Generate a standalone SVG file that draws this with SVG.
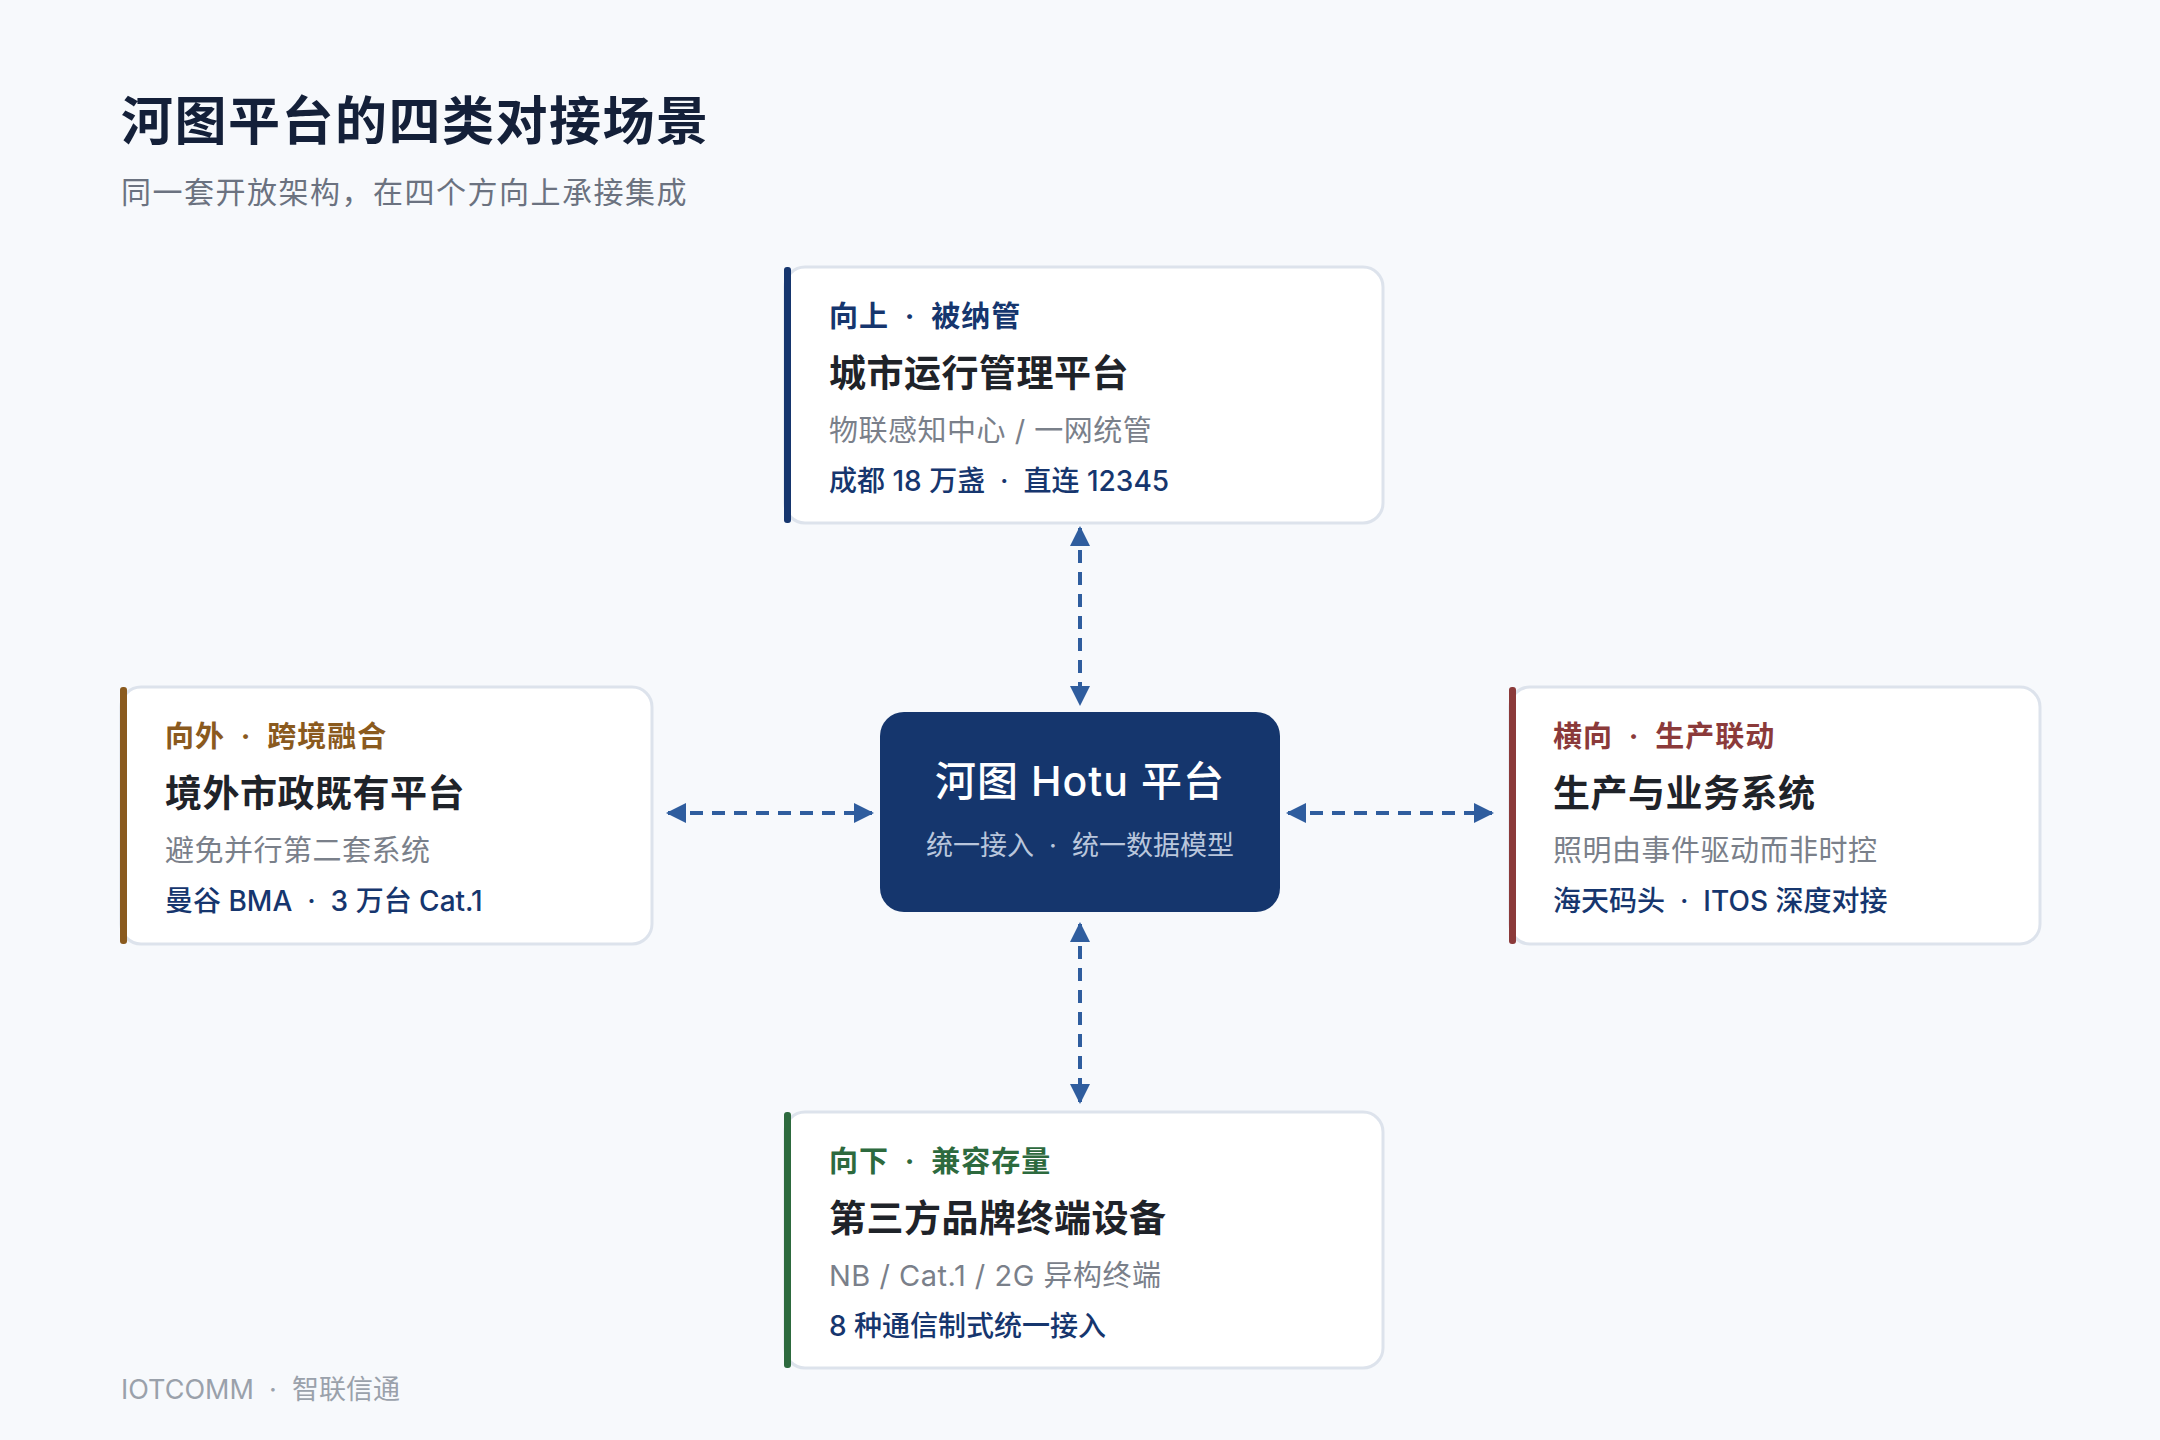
<svg xmlns="http://www.w3.org/2000/svg" width="2160" height="1440" viewBox="0 0 2160 1440">
<defs>
<style>
text{font-family:"Inter","Noto Sans CJK SC",sans-serif}
.card{fill:#fff;stroke:#dde3ec;stroke-width:3}
.tag{font-size:29px;font-weight:700;letter-spacing:1px;white-space:pre}
.ttl{font-size:37px;font-weight:700;fill:#1f2329;letter-spacing:0.5px}
.sub{font-size:29px;fill:#7a808a;letter-spacing:0.5px}
.stat{font-size:28px;font-weight:500;fill:#16366e;white-space:pre}
.conn{stroke:#2f5d9e;stroke-width:4;stroke-dasharray:13 9;fill:none}
</style>
<marker id="ah" viewBox="0 0 10 10" refX="9" refY="5" markerWidth="5" markerHeight="5" orient="auto-start-reverse"><path d="M0,0L10,5L0,10z" fill="#2f5d9e"/></marker>
</defs>
<rect width="2160" height="1440" fill="#f7f9fc"/>
<text x="121" y="140" font-size="52" font-weight="700" fill="#142039" letter-spacing="1.5">河图平台的四类对接场景</text>
<text x="121" y="203" font-size="30" fill="#6b7280" letter-spacing="1.5">同一套开放架构，在四个方向上承接集成</text>
<g id="connectors">
<line class="conn" x1="1080" y1="528" x2="1080" y2="704" marker-start="url(#ah)" marker-end="url(#ah)"/>
<line class="conn" x1="1080" y1="924" x2="1080" y2="1102" marker-start="url(#ah)" marker-end="url(#ah)"/>
<line class="conn" x1="668" y1="813" x2="872" y2="813" marker-start="url(#ah)" marker-end="url(#ah)"/>
<line class="conn" x1="1288" y1="813" x2="1492" y2="813" marker-start="url(#ah)" marker-end="url(#ah)"/>
</g>
<g id="top">
<rect class="card" x="785" y="267" width="598" height="256" rx="20"/>
<rect x="784" y="267" width="7" height="256" rx="3" fill="#16366e"/>
<text class="tag" x="829" y="327" fill="#16366e">向上  ·  被纳管</text>
<text class="ttl" x="829" y="387">城市运行管理平台</text>
<text class="sub" x="829" y="441">物联感知中心 / 一网统管</text>
<text class="stat" x="829" y="491">成都 18 万盏  ·  直连 12345</text>
</g>
<g id="left">
<rect class="card" x="121" y="687" width="531" height="257" rx="20"/>
<rect x="120" y="687" width="7" height="257" rx="3" fill="#8a5a1e"/>
<text class="tag" x="165" y="747" fill="#8a5a1e">向外  ·  跨境融合</text>
<text class="ttl" x="165" y="807">境外市政既有平台</text>
<text class="sub" x="165" y="861">避免并行第二套系统</text>
<text class="stat" x="165" y="911">曼谷 BMA  ·  3 万台 Cat.1</text>
</g>
<g id="right">
<rect class="card" x="1510" y="687" width="530" height="257" rx="20"/>
<rect x="1509" y="687" width="7" height="257" rx="3" fill="#8b3a3a"/>
<text class="tag" x="1553" y="747" fill="#8b3a3a">横向  ·  生产联动</text>
<text class="ttl" x="1553" y="807">生产与业务系统</text>
<text class="sub" x="1553" y="861">照明由事件驱动而非时控</text>
<text class="stat" x="1553" y="911">海天码头  ·  ITOS 深度对接</text>
</g>
<g id="bottom">
<rect class="card" x="785" y="1112" width="598" height="256" rx="20"/>
<rect x="784" y="1112" width="7" height="256" rx="3" fill="#2d6a3e"/>
<text class="tag" x="829" y="1172" fill="#2d6a3e">向下  ·  兼容存量</text>
<text class="ttl" x="829" y="1232">第三方品牌终端设备</text>
<text class="sub" x="829" y="1286">NB / Cat.1 / 2G 异构终端</text>
<text class="stat" x="829" y="1336">8 种通信制式统一接入</text>
</g>
<g id="center">
<rect x="880" y="712" width="400" height="200" rx="24" fill="#15366d"/>
<text x="1080" y="796" font-size="41" font-weight="500" fill="#fff" text-anchor="middle" letter-spacing="1">河图 Hotu 平台</text>
<text x="1080" y="855" font-size="27" fill="#b9c6dc" text-anchor="middle" style="white-space:pre">统一接入  ·  统一数据模型</text>
</g>
<text x="121" y="1399" font-size="27" fill="#9aa1ab" style="white-space:pre">IOTCOMM  ·  智联信通</text>
</svg>
